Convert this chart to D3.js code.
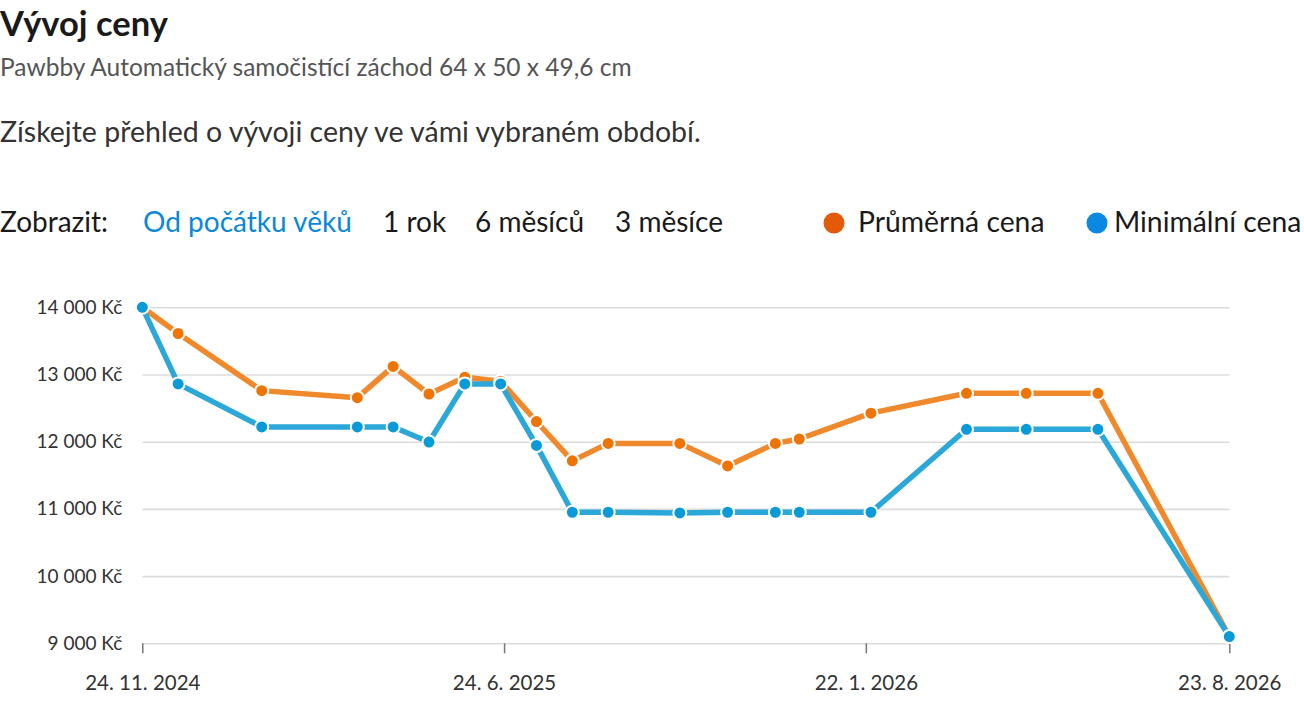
<!DOCTYPE html>
<html>
<head>
<meta charset="utf-8">
<script src="https://cdn.jsdelivr.net/npm/d3@7"></script>
<style>
  body { margin: 0; background: #fff; }
  svg { display: block; font-family: Lato, "Noto Sans", sans-serif; }
</style>
</head>
<body>
<div id="chart"></div>
<script>
// data
var dates = ["2024-11-24", "2024-12-15", "2025-02-02", "2025-03-30", "2025-04-20",
    "2025-05-11", "2025-06-01", "2025-06-22", "2025-07-13", "2025-08-03",
    "2025-08-24", "2025-10-05", "2025-11-02", "2025-11-30", "2025-12-14",
    "2026-01-25", "2026-03-22", "2026-04-26", "2026-06-07", "2026-08-23"];
var avgPrice = [14000, 13610, 12760, 12655, 13120, 12710, 12960, 12900, 12300, 11715,
    11975, 11975, 11640, 11975, 12040, 12425, 12720, 12720, 12720, 9100];
var minPrice = [14000, 12860, 12220, 12220, 12220, 11995, 12860, 12860, 11945, 10950,
    10950, 10940, 10950, 10950, 10950, 10950, 12185, 12185, 12185, 9100];
var xTickDates = ["2024-11-24", "2025-06-24", "2026-01-22", "2026-08-23"];
var yTicks = [9000, 10000, 11000, 12000, 13000, 14000];
var periods = ["Od počátku věků", "1 rok", "6 měsíců", "3 měsíce"];
var seriesNames = ["Průměrná cena", "Minimální cena"];

var width = 1304, height = 708;
var parse = d3.timeParse("%Y-%m-%d");

var svg = d3.select("#chart")
    .append("svg")
    .attr("width", width)
    .attr("height", height);

// header texts
svg.append("text")
    .attr("x", 0).attr("y", 36)
    .attr("font-size", 34.5).attr("font-weight", 700).attr("fill", "#1a1a1a")
    .text("Vývoj ceny");
svg.append("text")
    .attr("x", 0).attr("y", 76)
    .attr("font-size", 24.5).attr("fill", "#555")
    .text("Pawbby Automatický samočistící záchod 64 x 50 x 49,6 cm");
svg.append("text")
    .attr("x", 0).attr("y", 142)
    .attr("font-size", 28.5).attr("fill", "#333")
    .text("Získejte přehled o vývoji ceny ve vámi vybraném období.");

// period switch
svg.append("text")
    .attr("x", 0).attr("y", 232)
    .attr("font-size", 28).attr("fill", "#1a1a1a")
    .text("Zobrazit:");
var periodX = [143, 383, 475, 615];
svg.selectAll(".period")
    .data(periods)
    .enter().append("text")
    .attr("class", "period")
    .attr("x", function(d, i) { return periodX[i]; })
    .attr("y", 232)
    .attr("font-size", 28)
    .attr("fill", function(d, i) { return i == 0 ? "#0a88d8" : "#1a1a1a"; })
    .text(function(d) { return d; });

// legend
var legendColors = ["#e35b0a", "#0b89e0"];
var legendX = [834, 1097];
var legend = svg.selectAll(".legend")
    .data(seriesNames)
    .enter().append("g")
    .attr("class", "legend")
    .attr("transform", function(d, i) { return "translate(" + legendX[i] + ",223)"; });
legend.append("circle")
    .attr("r", 10.5)
    .attr("fill", function(d, i) { return legendColors[i]; });
legend.append("text")
    .attr("x", function(d, i) { return i == 0 ? 24 : 17; })
    .attr("y", 9)
    .attr("font-size", 28.3).attr("fill", "#1a1a1a")
    .text(function(d) { return d; });

// scales
var x = d3.scaleTime()
    .domain([parse("2024-11-24"), parse("2026-08-23")])
    .range([142.3, 1229.3]);
var y = d3.scaleLinear()
    .domain([9000, 14000])
    .range([643.3, 307.3]);

var locale = d3.formatLocale({ decimal: ",", thousands: "\u00a0", grouping: [3], currency: ["", "\u00a0Kč"] });
var fmtPrice = locale.format("$,.0f");
var fmtDate = d3.timeFormat("%-d. %-m. %Y");

// grid + y labels
var yAxis = svg.append("g")
    .attr("transform", "translate(142.3,0)")
    .call(d3.axisLeft(y).tickValues(yTicks).tickFormat(fmtPrice)
        .tickSize(-(1229.3 - 142.3)).tickPadding(20));
yAxis.select(".domain").remove();
yAxis.selectAll(".tick line").attr("stroke", "#dcdcdc").attr("stroke-width", 1.6);
yAxis.selectAll(".tick text")
    .attr("font-family", "Lato, 'Noto Sans', sans-serif")
    .attr("font-size", 19).attr("fill", "#333");

// x axis
var xAxis = svg.append("g")
    .attr("transform", "translate(0,643.3)")
    .call(d3.axisBottom(x).tickValues(xTickDates.map(parse)).tickFormat(fmtDate)
        .tickSize(10).tickPadding(22));
xAxis.select(".domain").remove();
xAxis.selectAll(".tick line").attr("stroke", "#777").attr("stroke-width", 1.5);
xAxis.selectAll(".tick text")
    .attr("font-family", "Lato, 'Noto Sans', sans-serif")
    .attr("font-size", 20.5).attr("fill", "#333");

// series
var series = [
    { name: seriesNames[0], values: avgPrice, line: "#f0892c", dot: "#ee7406" },
    { name: seriesNames[1], values: minPrice, line: "#2ba8d8", dot: "#0a9ad8" }
];

var line = d3.line()
    .x(function(d) { return x(d.date); })
    .y(function(d) { return y(d.value); });

series.forEach(function(s) {
    var pts = dates.map(function(d, i) { return { date: parse(d), value: s.values[i] }; });
    var g = svg.append("g");
    g.append("path")
        .datum(pts)
        .attr("d", line)
        .attr("fill", "none")
        .attr("stroke", s.line)
        .attr("stroke-width", 5.5)
        .attr("stroke-linejoin", "round");
    g.selectAll("circle")
        .data(pts)
        .enter().append("circle")
        .attr("cx", function(d) { return x(d.date); })
        .attr("cy", function(d) { return y(d.value); })
        .attr("r", 6.5)
        .attr("fill", s.dot)
        .attr("stroke", "#fff")
        .attr("stroke-width", 2);
});
</script>
</body>
</html>
